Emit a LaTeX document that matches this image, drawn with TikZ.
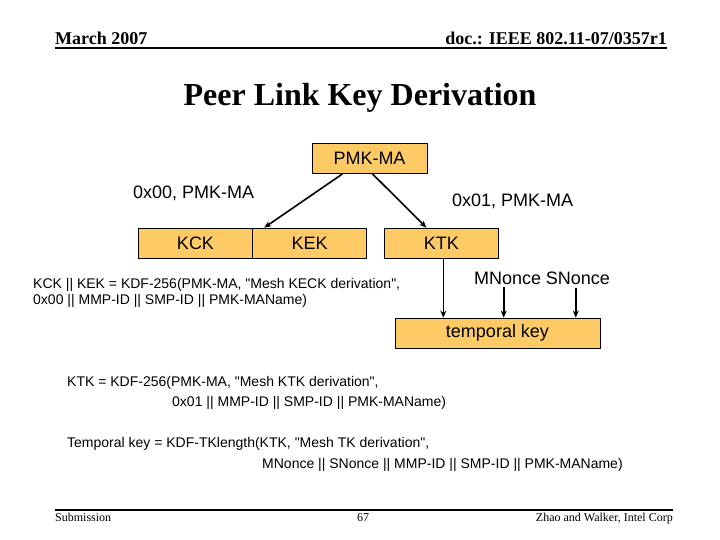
\documentclass[tikz,border=0pt]{standalone}
\usepackage{fontspec}
\setmainfont{Liberation Serif}
\setsansfont{Liberation Sans}
\newfontfamily\plainsans{Liberation Sans}
\usetikzlibrary{arrows.meta}
\definecolor{keyorange}{RGB}{253,202,102}

\begin{document}
\begin{tikzpicture}[x=1pt,y=-1pt,
        keybox/.style={draw,line width=0.8pt,fill=keyorange,inner sep=0pt,minimum height=30pt,font=\sffamily\fontsize{18}{20}\selectfont},
        txt/.style={inner sep=0pt,font=\sffamily\fontsize{18}{20}\selectfont},
        formula/.style={inner sep=0pt,anchor=west,font=\plainsans\fontsize{14}{16}\selectfont},
        arr/.style={-{Stealth[length=7pt,width=6pt]},line width=1.6pt}]
        \useasboundingbox (0,0) rectangle (720,540);
        % header and footer
        \node[inner sep=0pt,anchor=base west,font=\bfseries\fontsize{18}{20}\selectfont] (date) at (55,45) {March 2007};
        \node[inner sep=0pt,anchor=base east,font=\bfseries\fontsize{18}{20}\selectfont] (doc) at (667,45) {doc.: IEEE 802.11-07/0357r1};
        \draw[line width=2pt] (date.base west) ++(0,3.5) coordinate (hl) -- (hl -| doc.east);
        \node[inner sep=0pt,font=\bfseries\fontsize{32}{36}\selectfont] (title) at (360,98) {Peer Link Key Derivation};
        \node[inner sep=0pt,anchor=base west,font=\fontsize{12}{14}\selectfont] (sub) at (55,521) {Submission};
        \node[inner sep=0pt,anchor=base,font=\fontsize{12}{14}\selectfont] (page) at (363,521) {67};
        \node[inner sep=0pt,anchor=base east,font=\fontsize{12}{14}\selectfont] (auth) at (673,521) {Zhao and Walker, Intel Corp};
        \draw[line width=2pt] (55,510) coordinate (fl) -- (auth.east |- fl);
        % key hierarchy
        \node[keybox,minimum width=115pt] (PMK) at (369.5,158.5) {PMK-MA};
        \node[keybox,minimum width=114.4pt] (KCK) at (195.5,243) {KCK};
        \node[keybox,minimum width=114pt] (KEK) at (309.7,243) {KEK};
        \node[keybox,minimum width=114pt] (KTK) at (441.3,243) {KTK};
        \node[keybox,minimum width=205pt] (TK) at (497.5,333) {temporal key};
        \node[txt,anchor=west] (l00) at (133,193) {0x00, PMK-MA};
        \node[txt,anchor=west] (l01) at (452,201) {0x01, PMK-MA};
        \node[txt,anchor=west,inner ysep=3pt] (MN) at (474,278) {MNonce};
        \node[txt,anchor=east,inner ysep=3pt] (SN) at (610,278) {SNonce};
        \draw[arr] ([xshift=-27pt]PMK.south) -- ([xshift=12pt]KEK.north west);
        \draw[arr] ([xshift=3pt]PMK.south) -- ([xshift=-15pt]KTK.north);
        \draw[arr] ([xshift=2pt]KTK.south) -- ([xshift=2pt]KTK.south |- TK.north);
        \draw[arr] ([xshift=-4pt]MN.south) -- ([xshift=-4pt]MN.south |- TK.north);
        \draw[arr] ([xshift=-2pt]SN.south) -- ([xshift=-2pt]SN.south |- TK.north);
        % derivation formulas
        \node[formula,align=left] (kck) at (33,293) {KCK || KEK = KDF-256(PMK-MA, "Mesh KECK derivation",\\0x00 || MMP-ID || SMP-ID || PMK-MAName)};
        \node[formula] (ktkA) at (67,383) {KTK = KDF-256(PMK-MA, "Mesh KTK derivation",};
        \node[formula] (ktkB) at (172,403) {0x01 || MMP-ID || SMP-ID || PMK-MAName)};
        \node[formula] (tkA) at (67,444) {Temporal key = KDF-TKlength(KTK, "Mesh TK derivation",};
        \node[formula] (tkB) at (262,465) {MNonce || SNonce || MMP-ID || SMP-ID || PMK-MAName)};
    \end{tikzpicture}
\end{document}
